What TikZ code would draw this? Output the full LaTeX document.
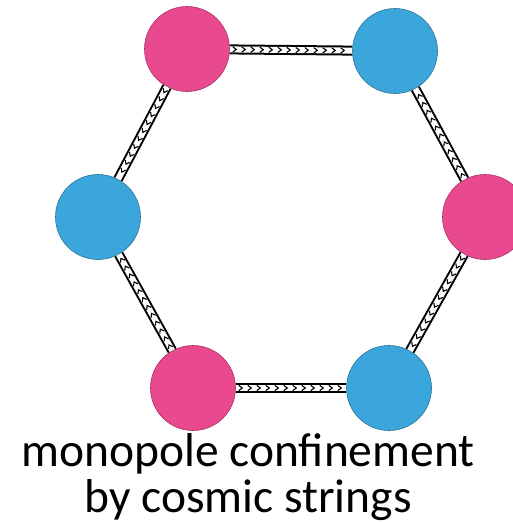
\documentclass[tikz,border=0pt]{standalone}
\usepackage{fontspec}
\setmainfont{Carlito}
\usetikzlibrary{decorations.markings}

\definecolor{monopink}{HTML}{E8498F}
\definecolor{monoblue}{HTML}{3BA6DC}

\begin{document}
\begin{tikzpicture}[x=1pt, y=-1pt,
  pole/.style={circle, minimum size=85pt, inner sep=0pt, line width=0.6pt},
  north/.style={pole, fill=monopink, draw=monopink!70!black},
  south/.style={pole, fill=monoblue, draw=monoblue!70!black},
  cosmic string/.style={line width=2pt, double=white, double distance=6pt,
    postaction={decorate, decoration={markings,
      mark=between positions 5pt and -5pt step 9pt with
        {\draw[line width=1.1pt] (-2pt,-2.6pt) -- (1.5pt,0pt) -- (-2pt,2.6pt);}}}}]
  \useasboundingbox (0,0) rectangle (513,523);

  % monopoles
  \node[north] (n1) at (187,49) {};
  \node[south] (s1) at (395,51) {};
  \node[north] (n2) at (485,217) {};
  \node[south] (s2) at (389,388) {};
  \node[north] (n3) at (193,388) {};
  \node[south] (s3) at (98,217) {};

  % strings
  \draw[cosmic string] (n1) -- (s1);
  \draw[cosmic string] (n2) -- (s1);
  \draw[cosmic string] (n2) -- (s2);
  \draw[cosmic string] (n3) -- (s2);
  \draw[cosmic string] (n3) -- (s3);
  \draw[cosmic string] (n1) -- (s3);

  \node[font=\fontsize{47.5}{46}\selectfont, align=center] (caption) at (248,477)
    {monopole confinement\\by cosmic strings};
\end{tikzpicture}
\end{document}
